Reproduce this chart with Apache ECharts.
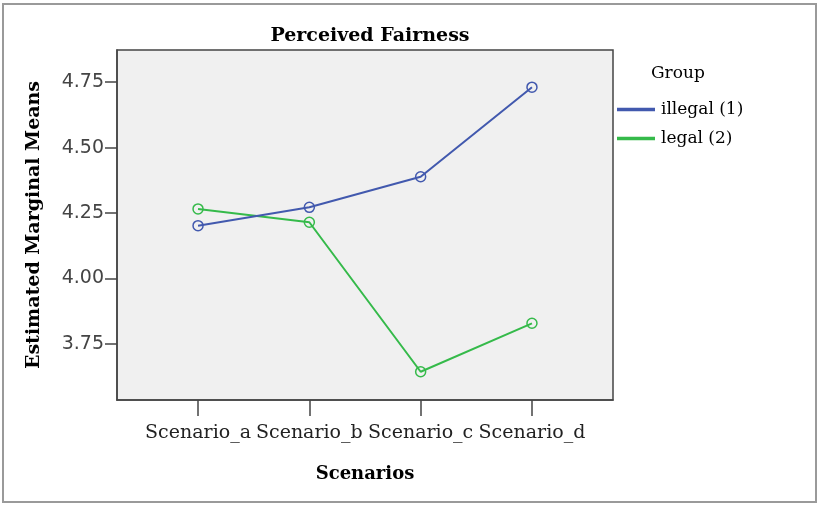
<!DOCTYPE html>
<html>
<head>
<meta charset="utf-8">
<script src="https://cdn.jsdelivr.net/npm/echarts@6/dist/echarts.min.js"></script>
<style>html,body{margin:0;padding:0;background:#fff}#c{width:821px;height:506px}</style>
</head>
<body>
<div id="c"></div>
<script>
const categories = ['Scenario_a', 'Scenario_b', 'Scenario_c', 'Scenario_d'];
const illegal = [4.202, 4.272, 4.389, 4.731];
const legal = [4.266, 4.215, 3.644, 3.829];
const yTicks = [3.75, 4.00, 4.25, 4.50, 4.75];
const seriesNames = ['illegal (1)', 'legal (2)'];

const toPts = arr => arr.map((v, i) => [i + 1, v]);
const serif = '"DejaVu Serif", "Liberation Serif", serif';
const sans = '"DejaVu Sans", "Liberation Sans", sans-serif';
const blue = '#4259AE', green = '#35BA4A';

const chart = echarts.init(document.getElementById('c'), null, {renderer: 'canvas'});
chart.setOption({
  animation: false,
  backgroundColor: '#fff',
  title: {
    text: 'Perceived Fairness', left: 365, top: 22, textAlign: 'center',
    textStyle: {fontFamily: serif, fontWeight: 'bold', fontSize: 19, color: '#000'}
  },
  legend: {
    left: 617, top: 101, orient: 'vertical', itemGap: 12, padding: 0,
    itemWidth: 36, itemHeight: 1.6, icon: 'rect',
    textStyle: {fontFamily: serif, fontSize: 17, color: '#000', padding: [0, 0, 0, 2]},
    data: seriesNames
  },
  graphic: [
    {type: 'rect', shape: {x: 3, y: 4, width: 813, height: 498}, style: {fill: 'none', stroke: '#9a9a9a', lineWidth: 2}, silent: true},
    {type: 'text', left: 651, top: 65, style: {text: 'Group', font: '17px ' + serif, fill: '#000'}}
  ],
  grid: {left: 117, top: 50, width: 496, height: 350, show: true, backgroundColor: '#F0F0F0', borderColor: '#444', borderWidth: 1.5},
  xAxis: {
    type: 'value', min: 0.272, max: 4.728,
    name: 'Scenarios', nameLocation: 'middle', nameGap: 65,
    nameTextStyle: {fontFamily: serif, fontWeight: 'bold', fontSize: 18, color: '#000'},
    axisLine: {show: true, lineStyle: {color: '#444', width: 1.5}},
    axisTick: {show: true, length: 16, customValues: [1, 2, 3, 4], lineStyle: {color: '#444', width: 1.5}},
    axisLabel: {customValues: [1, 2, 3, 4], margin: 24, formatter: v => categories[Math.round(v) - 1] || '',
      fontFamily: serif, fontSize: 19, color: '#222'},
    splitLine: {show: false}
  },
  yAxis: {
    type: 'value', min: 3.536, max: 4.873,
    name: 'Estimated Marginal Means', nameLocation: 'middle', nameGap: 73, nameRotate: 90,
    nameTextStyle: {fontFamily: serif, fontWeight: 'bold', fontSize: 19, color: '#000'},
    axisLine: {show: true, lineStyle: {color: '#444', width: 1.5}},
    axisTick: {show: true, length: 12, customValues: yTicks, lineStyle: {color: '#444', width: 1.5}},
    axisLabel: {customValues: yTicks, margin: 13, formatter: v => v.toFixed(2),
      fontFamily: sans, fontSize: 19, color: '#444'},
    splitLine: {show: false}
  },
  series: [
    {name: seriesNames[0], type: 'line', data: toPts(illegal), symbol: 'circle', symbolSize: 10,
      lineStyle: {color: blue, width: 2}, itemStyle: {color: 'rgba(0,0,0,0)', borderColor: blue, borderWidth: 1.5}, z: 3},
    {name: seriesNames[1], type: 'line', data: toPts(legal), symbol: 'circle', symbolSize: 10,
      lineStyle: {color: green, width: 2}, itemStyle: {color: 'rgba(0,0,0,0)', borderColor: green, borderWidth: 1.5}, z: 2}
  ]
});
</script>
</body>
</html>
